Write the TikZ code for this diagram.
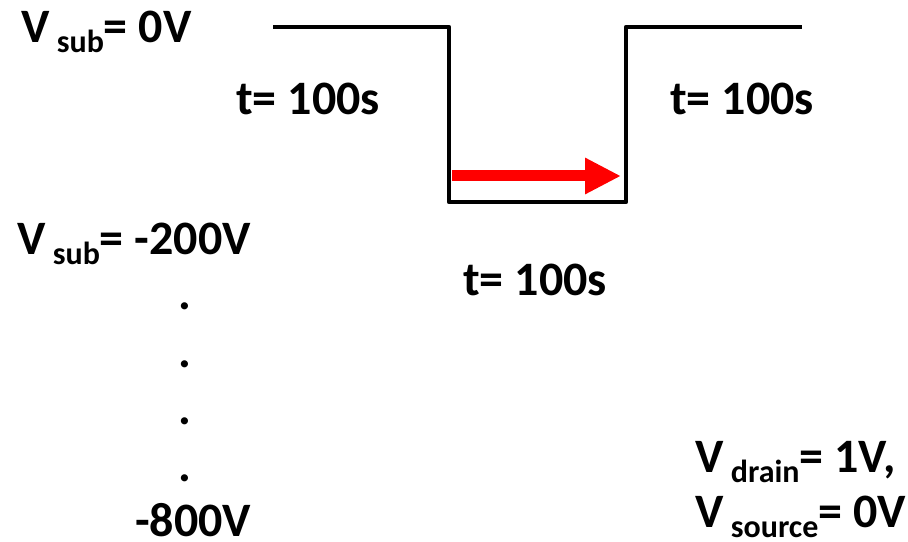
\documentclass[tikz,border=0pt]{standalone}
\usepackage{fontspec}
\setmainfont{Carlito}
\usetikzlibrary{arrows.meta, positioning}

\newcommand{\lowtext}[1]{\raisebox{-7.5pt}{\fontsize{24}{28}\selectfont\ #1}}

\begin{document}
\begin{tikzpicture}[x=0.75pt, y=-0.75pt, >=Stealth,
    lbl/.style={font=\fontsize{36}{40}\selectfont\bfseries, anchor=base west, inner sep=0pt},
    dotlbl/.style={font=\fontsize{36}{40}\selectfont\bfseries, anchor=base, inner sep=0pt},
    wave/.style={line width=3.4pt, line join=round},
    flow/.style={red, line width=8.25pt, -{Triangle[length=27pt, width=25.5pt]}}]

    \useasboundingbox (0,0) rectangle (908,542);

    % voltage labels
    \node[lbl] (vzero) at (21,43) {V\lowtext{sub}= 0V};
    \node[lbl] (vstart) at (17,254) {V\lowtext{sub}= -200V};
    \node[dotlbl] (dota) at (185,309) {.};
    \node[dotlbl] (dotb) at (185,367) {.};
    \node[dotlbl] (dotc) at (185,424) {.};
    \node[dotlbl] (dotd) at (185,481) {.};
    \node[lbl, text depth=0pt] (vend) at (135,536) {-800V};

    % time labels
    \node[lbl] (tleft) at (236,115) {t= 100s};
    \node[lbl] (tright) at (670,115) {t= 100s};
    \node[lbl] (tlow) at (463,295) {t= 100s};

    % bias labels
    \node[lbl] (vdrain) at (695,472) {V\lowtext{drain}= 1V,};
    \node[lbl, text depth=3pt] (vsource) at (695,527) {V\lowtext{source}= 0V};

    % waveform
    \coordinate (w1) at (273,27);
    \coordinate (w2) at (449,27);
    \coordinate (w3) at (449,202);
    \coordinate (w4) at (626,202);
    \coordinate (w5) at (626,27);
    \coordinate (w6) at (802,27);
    \draw[wave] (w1) -- (w2) -- (w3) -- (w4) -- (w5) -- (w6);

    \coordinate (ra) at (452,176);
    \coordinate (rb) at (621,176);
    \draw[flow] (ra) -- (rb);
\end{tikzpicture}
\end{document}
